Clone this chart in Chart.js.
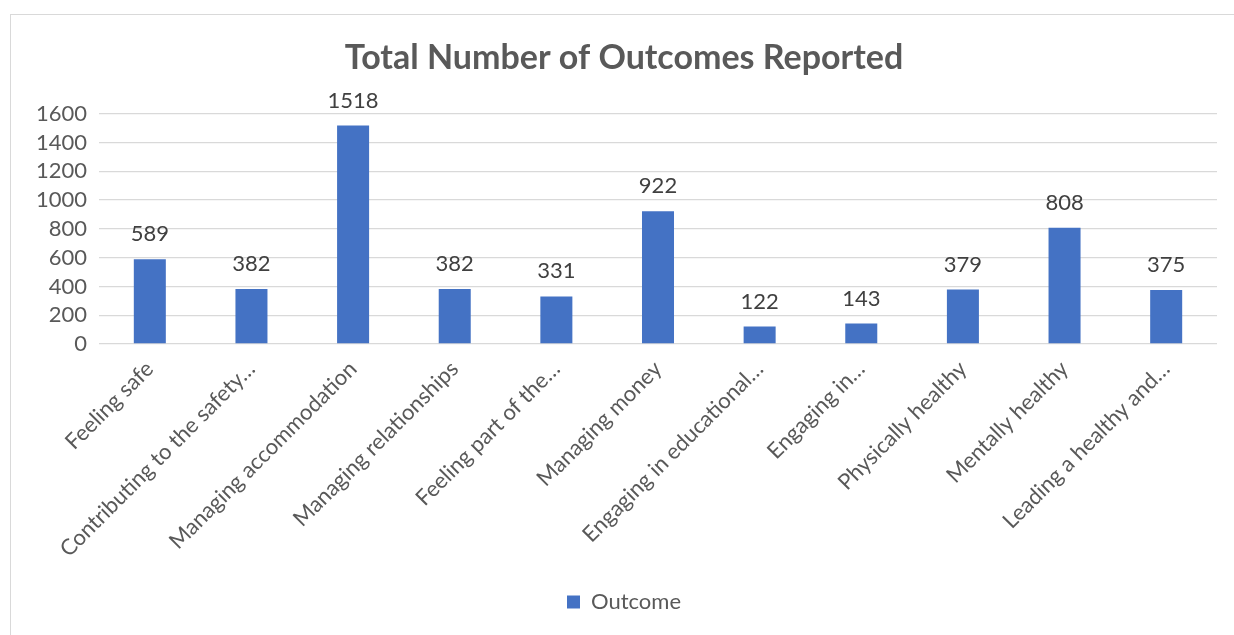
<!DOCTYPE html>
<html>
<head>
<meta charset="utf-8">
<script src="https://cdn.jsdelivr.net/npm/chart.js@4.4.1/dist/chart.umd.min.js"></script>
<style>
  html, body { margin: 0; padding: 0; background: #fff; overflow: hidden; }
  body { width: 1234px; height: 635px; position: relative; }
  #wrap { position: absolute; left: 10px; top: 14px; width: 1236px; height: 621px;
          border-left: 1px solid #d9d9d9; border-top: 1px solid #d9d9d9; box-sizing: border-box; }
  #chart { display: block; }
</style>
</head>
<body>
<div id="wrap"><canvas id="chart" width="1235" height="620"></canvas></div>
<script>
(function(){
  'use strict';

  var categories = [
    'Feeling safe',
    'Contributing to the safety\u2026',
    'Managing accommodation',
    'Managing relationships',
    'Feeling part of the\u2026',
    'Managing money',
    'Engaging in educational\u2026',
    'Engaging in\u2026',
    'Physically healthy',
    'Mentally healthy',
    'Leading a healthy and\u2026'
  ];
  var outcomeValues = [589, 382, 1518, 382, 331, 922, 122, 143, 379, 808, 375];
  var yTicks = [0, 200, 400, 600, 800, 1000, 1200, 1400, 1600];

  var FONT = 'Lato, "Open Sans", sans-serif';
  var TEXT = '#595959';

  var barLabels = {
    id: 'barLabels',
    afterDatasetsDraw: function(chart){
      var ctx = chart.ctx;
      var meta = chart.getDatasetMeta(0);
      ctx.save();
      ctx.font = '22px ' + FONT;
      ctx.fillStyle = '#404040';
      ctx.textAlign = 'center';
      ctx.textBaseline = 'middle';
      meta.data.forEach(function(bar, i){
        ctx.fillText(String(outcomeValues[i]), bar.x, bar.y - 25);
      });
      ctx.restore();
    }
  };

  document.addEventListener('DOMContentLoaded', function(){
    var ctx = document.getElementById('chart');
    new Chart(ctx, {
      type: 'bar',
      data: {
        labels: categories,
        datasets: [{
          label: 'Outcome',
          data: outcomeValues,
          backgroundColor: '#4472C4',
          borderWidth: 0,
          categoryPercentage: 1,
          barPercentage: 0.315
        }]
      },
      options: {
        responsive: false,
        animation: false,
        layout: { padding: { left: 20, right: 29, top: 0, bottom: 12 } },
        plugins: {
          title: {
            display: true,
            text: 'Total Number of Outcomes Reported',
            color: TEXT,
            font: { family: FONT, size: 34, weight: 'bold' },
            padding: { top: 23, bottom: 35 }
          },
          legend: {
            position: 'bottom',
            labels: {
              color: TEXT,
              font: { family: FONT, size: 22 },
              boxWidth: 13,
              boxHeight: 13,
              padding: 10
            }
          },
          tooltip: { enabled: false }
        },
        scales: {
          x: {
            grid: { display: false, drawTicks: false },
            border: { display: false },
            ticks: {
              color: TEXT,
              font: { family: FONT, size: 22 },
              maxRotation: 45,
              minRotation: 45,
              autoSkip: false,
              padding: 12
            },
            afterFit: function(scale){ scale.height = 237; }
          },
          y: {
            min: 0,
            max: 1600,
            afterBuildTicks: function(scale){
              scale.ticks = yTicks.map(function(v){ return { value: v }; });
            },
            grid: { color: '#d9d9d9', lineWidth: 1.3, drawTicks: false },
            border: { display: false },
            ticks: {
              color: TEXT,
              font: { family: FONT, size: 22 },
              padding: 12,
              autoSkip: false,
              callback: function(v){ return String(v); }
            },
            afterFit: function(scale){ scale.width = 68; }
          }
        }
      },
      plugins: [barLabels]
    });
  });
})();
</script>
</body>
</html>
